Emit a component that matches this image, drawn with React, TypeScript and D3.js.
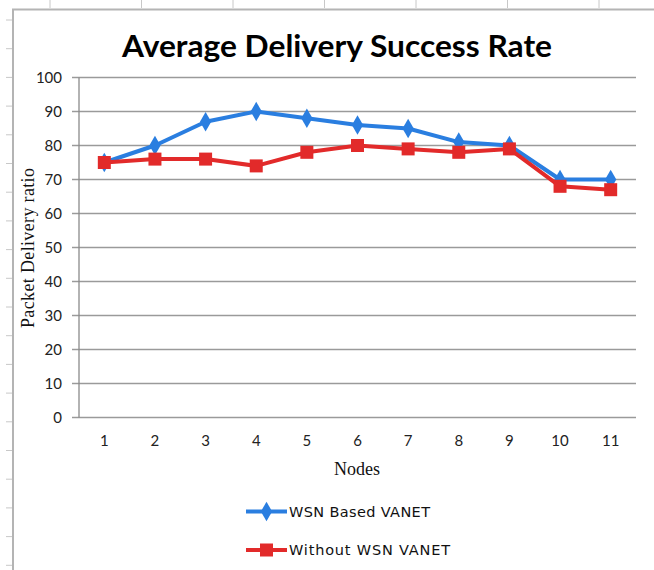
import React, { useEffect, useRef } from 'react';
import * as d3 from 'd3';

const nodes = ['1', '2', '3', '4', '5', '6', '7', '8', '9', '10', '11'];
const wsnBased = [75, 80, 87, 90, 88, 86, 85, 81, 80, 70, 70];
const withoutWsn = [75, 76, 76, 74, 78, 80, 79, 78, 79, 68, 67];
const yTicks = [0, 10, 20, 30, 40, 50, 60, 70, 80, 90, 100];
const seriesNames = ['WSN Based VANET', 'Without WSN VANET'];

const App = () => {
  const ref = useRef<SVGSVGElement | null>(null);

  useEffect(() => {
    const width = 654;
    const height = 570;

    const svg = d3.select(ref.current);
    svg.selectAll('*').remove();
    svg.attr('width', width).attr('height', height);

    svg.append('rect').attr('width', width).attr('height', height).attr('fill', '#fff');

    // spreadsheet remnants: ruler ticks and the chart frame
    const topTicks = d3.range(7).map(i => 50 + i * 91.5);
    svg.append('g').selectAll('line').data(topTicks).enter().append('line')
      .attr('x1', d => d).attr('x2', d => d).attr('y1', 0).attr('y2', 8)
      .attr('stroke', '#c8c8c8').attr('stroke-width', 1);
    const leftTicks = d3.range(20).map(i => 20 + i * 28.7);
    svg.append('g').selectAll('line').data(leftTicks).enter().append('line')
      .attr('x1', 6).attr('x2', 13).attr('y1', d => d).attr('y2', d => d)
      .attr('stroke', '#c8c8c8').attr('stroke-width', 1);

    svg.append('path')
      .attr('d', `M13,${height} L13,9.5 L${width},9.5`)
      .attr('fill', 'none').attr('stroke', '#b4b4b4').attr('stroke-width', 2);

    // plot area
    const left = 79;
    const right = 636;
    const top = 77.5;
    const bottom = 417.5;

    const x = d3.scalePoint<string>().domain(nodes).range([left, right]).padding(0.5);
    const y = d3.scaleLinear().domain([0, 100]).range([bottom, top]);

    // gridlines + y ticks
    svg.append('g').selectAll('line').data(yTicks).enter().append('line')
      .attr('x1', left - 7).attr('x2', right)
      .attr('y1', d => y(d)).attr('y2', d => y(d))
      .attr('stroke', '#9a9a9a').attr('stroke-width', 1.3);

    svg.append('line')
      .attr('x1', left).attr('x2', left).attr('y1', top).attr('y2', bottom)
      .attr('stroke', '#8a8a8a').attr('stroke-width', 1.3);

    svg.append('g').selectAll('text').data(yTicks).enter().append('text')
      .text(d => d)
      .attr('x', 62).attr('y', d => y(d))
      .attr('dy', '0.35em')
      .attr('text-anchor', 'end')
      .attr('font-family', 'Lato, "Open Sans", sans-serif')
      .attr('font-size', 15)
      .attr('fill', '#222');

    svg.append('g').selectAll('text').data(nodes).enter().append('text')
      .text(d => d)
      .attr('x', d => x(d) as number).attr('y', 446)
      .attr('text-anchor', 'middle')
      .attr('font-family', 'Lato, "Open Sans", sans-serif')
      .attr('font-size', 15)
      .attr('fill', '#222');

    // titles
    svg.append('text')
      .text('Average Delivery Success Rate')
      .attr('x', 337).attr('y', 57)
      .attr('text-anchor', 'middle')
      .attr('font-family', 'Lato, sans-serif')
      .attr('font-weight', 'bold')
      .attr('font-size', 31)
      .attr('textLength', 430)
      .attr('lengthAdjust', 'spacingAndGlyphs')
      .attr('fill', '#000');

    svg.append('text')
      .text('Nodes')
      .attr('x', 357).attr('y', 475)
      .attr('text-anchor', 'middle')
      .attr('font-family', '"Liberation Serif", "DejaVu Serif", serif')
      .attr('font-size', 18)
      .attr('fill', '#111');

    svg.append('text')
      .text('Packet Delivery ratio')
      .attr('transform', 'translate(34,248) rotate(-90)')
      .attr('text-anchor', 'middle')
      .attr('font-family', '"Liberation Serif", "DejaVu Serif", serif')
      .attr('font-size', 18)
      .attr('textLength', 160)
      .attr('fill', '#111');

    // series
    const blue = '#2a7ee0';
    const red = '#e22a2a';

    const line = d3.line<number>()
      .x((_, i) => x(nodes[i]) as number)
      .y(d => y(d));

    const diamond = d3.symbol().type(d3.symbolDiamond).size(110);

    svg.append('path').datum(wsnBased)
      .attr('d', line)
      .attr('fill', 'none').attr('stroke', blue).attr('stroke-width', 4)
      .attr('stroke-linejoin', 'round');
    svg.append('g').selectAll('path').data(wsnBased).enter().append('path')
      .attr('d', diamond)
      .attr('transform', (d, i) => `translate(${x(nodes[i])},${y(d)})`)
      .attr('fill', blue);

    svg.append('path').datum(withoutWsn)
      .attr('d', line)
      .attr('fill', 'none').attr('stroke', red).attr('stroke-width', 4)
      .attr('stroke-linejoin', 'round');
    const sq = 13;
    svg.append('g').selectAll('rect').data(withoutWsn).enter().append('rect')
      .attr('x', (d, i) => (x(nodes[i]) as number) - sq / 2)
      .attr('y', d => y(d) - sq / 2)
      .attr('width', sq).attr('height', sq)
      .attr('fill', red);

    // legend
    const legendRows = [
      { name: seriesNames[0], color: blue, y: 511.5, marker: 'diamond', len: 141 },
      { name: seriesNames[1], color: red, y: 550, marker: 'square', len: 161 },
    ];
    legendRows.forEach(row => {
      const g = svg.append('g');
      g.append('line')
        .attr('x1', 246).attr('x2', 287).attr('y1', row.y).attr('y2', row.y)
        .attr('stroke', row.color).attr('stroke-width', 4);
      if (row.marker === 'diamond') {
        g.append('path')
          .attr('d', diamond)
          .attr('transform', `translate(266.5,${row.y})`)
          .attr('fill', row.color);
      } else {
        g.append('rect')
          .attr('x', 266.5 - sq / 2).attr('y', row.y - sq / 2)
          .attr('width', sq).attr('height', sq)
          .attr('fill', row.color);
      }
      g.append('text')
        .text(row.name)
        .attr('x', 289).attr('y', row.y)
        .attr('dy', '0.35em')
        .attr('font-family', '"DejaVu Sans", Verdana, sans-serif')
        .attr('font-size', 14.5)
        .attr('textLength', row.len)
        .attr('fill', '#111');
    });
  }, []);

  return (
    <svg
      ref={ref}
      style={{ position: 'absolute', left: 0, top: 0, display: 'block' }}
    />
  );
};

export default App;
